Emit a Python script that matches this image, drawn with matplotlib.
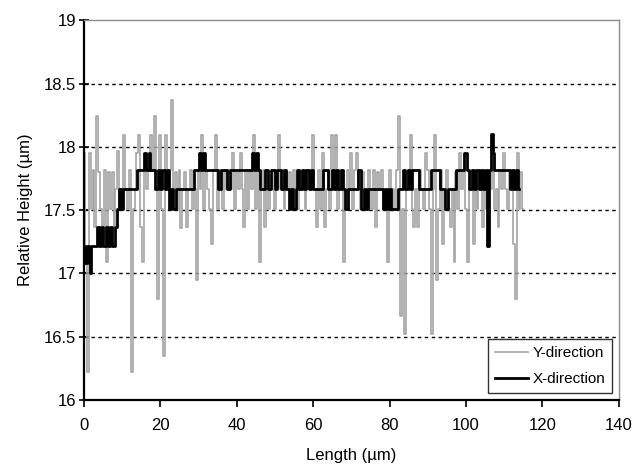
import numpy as np
import matplotlib
matplotlib.use('Agg')
from matplotlib import pyplot as plt

plt.rcParams['font.family'] = ['Liberation Sans', 'DejaVu Sans']

# Y-direction profile, one reading every 0.5 um from 0 to 115 um
ydir_step = 0.5
ydir_height = [
    17.95, 17.22, 16.22, 17.95, 17.51, 17.82, 17.37, 18.24, 17.80, 17.51,
    17.27, 17.82, 17.09, 17.80, 17.51, 17.80, 17.37, 17.67, 17.97, 17.51,
    17.67, 18.09, 17.67, 17.51, 17.82, 16.22, 17.51, 17.67, 17.95, 18.09,
    17.37, 17.09, 17.82, 17.67, 17.95, 18.09, 17.82, 18.24, 17.67, 16.80,
    18.09, 17.51, 16.35, 18.09, 17.67, 17.82, 18.37, 17.67, 17.80, 17.51,
    17.82, 17.36, 17.67, 17.80, 17.37, 17.67, 17.82, 17.51, 17.67, 16.95,
    17.82, 17.67, 18.09, 17.51, 17.82, 17.67, 17.51, 17.23, 17.82, 18.09,
    17.51, 17.82, 17.67, 17.51, 17.80, 17.67, 17.82, 17.67, 17.95, 17.51,
    17.82, 17.67, 17.95, 17.67, 17.37, 17.82, 17.51, 17.80, 17.67, 18.09,
    17.51, 17.82, 17.09, 17.67, 17.82, 17.37, 17.80, 17.51, 17.67, 17.82,
    17.51, 17.67, 18.09, 17.67, 17.82, 17.51, 17.80, 17.67, 17.80, 17.51,
    17.82, 17.67, 17.51, 17.82, 17.67, 17.80, 17.51, 17.82, 17.67, 17.80,
    18.09, 17.67, 17.37, 17.82, 17.51, 17.95, 17.37, 17.67, 17.82, 17.51,
    18.09, 17.67, 18.09, 17.51, 17.82, 17.67, 17.09, 17.51, 17.82, 17.67,
    17.95, 17.51, 17.82, 17.95, 17.67, 17.51, 17.80, 17.67, 17.51, 17.82,
    17.67, 17.51, 17.82, 17.37, 17.80, 17.67, 17.82, 17.51, 17.67, 17.09,
    17.82, 17.51, 17.67, 17.51, 17.82, 18.24, 16.66, 17.51, 16.52, 17.67,
    17.82, 18.09, 17.51, 17.37, 17.67, 17.37, 17.82, 17.67, 17.51, 17.95,
    17.82, 17.51, 16.52, 17.67, 18.09, 16.95, 17.51, 17.82, 17.23, 17.67,
    17.82, 17.51, 17.37, 17.67, 17.09, 17.80, 17.51, 17.95, 17.67, 17.82,
    17.51, 17.09, 17.67, 17.82, 17.23, 17.67, 17.51, 17.82, 17.67, 17.37,
    17.67, 17.51, 17.82, 17.67, 17.80, 17.51, 17.67, 17.37, 17.82, 17.67,
    17.95, 17.67, 17.51, 17.82, 17.67, 17.23, 16.80, 17.95, 17.51, 17.80,
    17.51,
]
ydir_length = np.arange(len(ydir_height)) * ydir_step

# X-direction profile: step changes (position in um, height in um)
xdir_length = [
    0.0, 0.4, 0.8, 1.3, 1.5, 1.9, 3.5, 4.0, 4.5, 5.0,
    5.7, 6.2, 6.8, 7.4, 8.0, 8.7, 9.2, 9.7, 10.3, 14.0,
    15.7, 16.3, 16.9, 17.4, 18.7, 19.3, 19.9, 20.5, 21.1, 21.7,
    22.2, 22.7, 23.3, 24.0, 28.8, 30.0, 30.6, 31.1, 31.6, 35.0,
    36.0, 37.5, 38.3, 44.0, 44.6, 45.1, 45.6, 46.2, 47.3, 48.2,
    49.0, 50.0, 50.6, 51.5, 52.3, 53.0, 53.6, 54.2, 54.8, 55.4,
    55.8, 56.4, 57.0, 57.6, 58.2, 58.8, 59.4, 60.0, 62.6, 63.9,
    64.8, 65.4, 66.0, 66.6, 67.2, 67.8, 68.4, 69.1, 71.7, 72.6,
    73.2, 73.8, 74.3, 78.3, 78.9, 79.4, 79.8, 80.4, 82.2, 83.5,
    84.1, 84.7, 85.3, 85.9, 87.8, 90.9, 93.1, 94.4, 95.2, 97.4,
    99.6, 100.2, 100.9, 101.5, 102.1, 102.7, 103.3, 103.9, 104.5, 105.0,
    105.5, 106.0, 106.6, 107.0, 107.4, 111.4, 112.0, 112.6, 113.1, 113.6,
    114.0,
]
xdir_height = [
    17.22, 17.08, 17.22, 17.08, 17.00, 17.22, 17.37, 17.22, 17.37, 17.22,
    17.37, 17.22, 17.37, 17.22, 17.37, 17.51, 17.67, 17.51, 17.67, 17.82,
    17.95, 17.82, 17.95, 17.82, 17.67, 17.82, 17.67, 17.82, 17.67, 17.82,
    17.51, 17.67, 17.51, 17.67, 17.82, 17.95, 17.82, 17.95, 17.82, 17.67,
    17.82, 17.67, 17.82, 17.95, 17.82, 17.95, 17.82, 17.67, 17.82, 17.67,
    17.82, 17.67, 17.82, 17.67, 17.82, 17.67, 17.51, 17.67, 17.51, 17.67,
    17.82, 17.67, 17.82, 17.67, 17.82, 17.67, 17.82, 17.67, 17.82, 17.67,
    17.82, 17.67, 17.82, 17.67, 17.82, 17.67, 17.51, 17.67, 17.82, 17.51,
    17.67, 17.51, 17.67, 17.51, 17.67, 17.51, 17.67, 17.51, 17.67, 17.82,
    17.67, 17.82, 17.67, 17.82, 17.67, 17.82, 17.67, 17.51, 17.67, 17.82,
    17.95, 17.82, 17.67, 17.82, 17.67, 17.82, 17.67, 17.82, 17.67, 17.82,
    17.22, 17.82, 18.10, 17.95, 17.82, 17.67, 17.82, 17.67, 17.82, 17.67,
    17.67,
]

fig = plt.figure(figsize=(6.36, 4.70), dpi=100)
ax = fig.add_axes([0.132, 0.149, 0.841, 0.808])

# grid
for g in [16.5, 17.0, 17.5, 18.0, 18.5]:
    ax.axhline(g, color='black', lw=1.0, linestyle=(0, (2.5, 2.5)), zorder=1)

ax.plot(ydir_length, ydir_height, color='#a4a4a4', lw=1.2, drawstyle='steps-mid',
        label='Y-direction', zorder=2)
ax.plot(xdir_length, xdir_height, color='black', lw=2.0, drawstyle='steps-post',
        label='X-direction', zorder=3)

ax.set_xlim(0, 140)
ax.set_ylim(16, 19)
ax.set_xticks(range(0, 141, 20))
ax.set_yticks([16, 16.5, 17, 17.5, 18, 18.5, 19])
ax.set_yticklabels(['16', '16.5', '17', '17.5', '18', '18.5', '19'])
ax.tick_params(axis='y', direction='inout', length=7, width=1.2, labelsize=12, pad=2)
ax.tick_params(axis='x', direction='out', length=5, width=1.2, labelsize=12, pad=8)

for side in ['left', 'bottom']:
    ax.spines[side].set_linewidth(1.6)
    ax.spines[side].set_color('black')
for side in ['top', 'right']:
    ax.spines[side].set_linewidth(1.0)
    ax.spines[side].set_color('#8c8c8c')

ax.set_xlabel('Length (µm)', fontsize=12, labelpad=11)
ax.set_ylabel('Relative Height (µm)', fontsize=12, labelpad=8)

leg = ax.legend(loc='lower right', bbox_to_anchor=(0.988, 0.018), borderaxespad=0,
                fontsize=11, frameon=True, fancybox=False, handlelength=2.2,
                handletextpad=0.3, borderpad=0.45, labelspacing=0.8)
leg.get_frame().set_edgecolor('black')
leg.get_frame().set_linewidth(1.0)

plt.savefig('out.png', dpi=100)
plt.close()
